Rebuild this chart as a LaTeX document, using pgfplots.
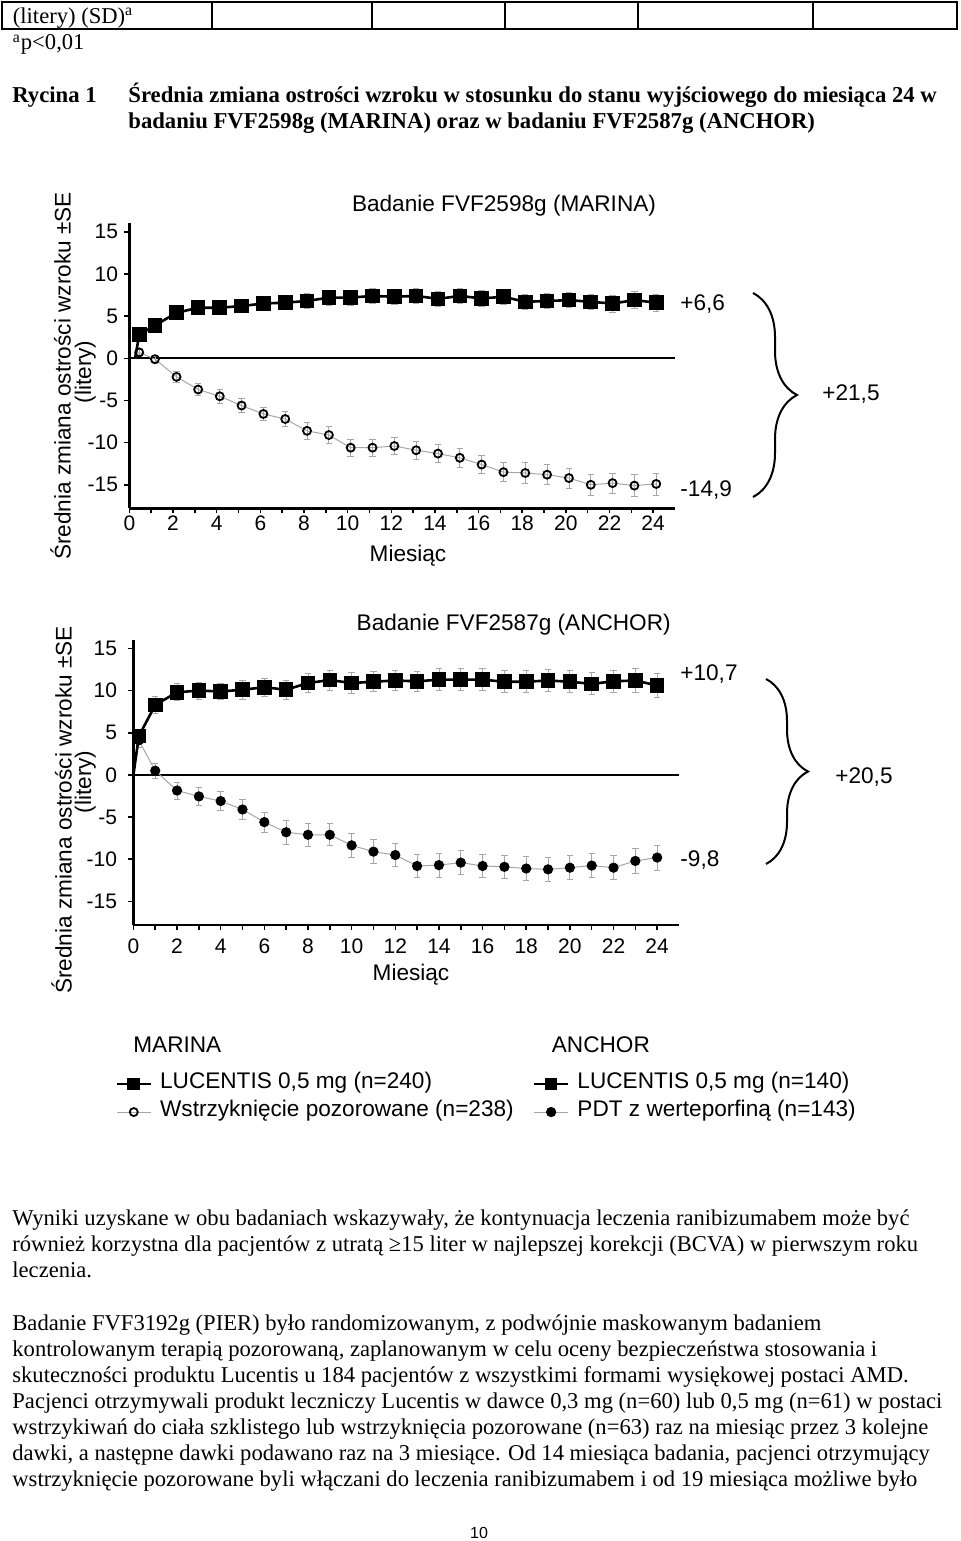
\documentclass[border=0pt]{standalone}
\usepackage{fontspec}
\setmainfont{Liberation Sans}
\newfontfamily\tnr{Liberation Serif}
\usepackage{pgfplots}
\pgfplotsset{compat=1.18}
\usetikzlibrary{decorations.pathreplacing}

\pgfplotsset{
  lucchart/.style={
    scale only axis, width=272.8pt, height=142.5pt,
    xmin=0, xmax=25, ymin=-17.8, ymax=16,
    axis x line=bottom, axis y line=left,
    axis line style={-, line width=1.2pt},
    xtick={0,2,...,24},
    xticklabels={0,2,4,6,8,10,12,14,16,18,20,22,24},
    minor xtick={1,3,...,23},
    ytick={-15,-10,-5,0,5,10,15},
    yticklabels={-15,-10,-5,0,5,10,15},
    tick align=outside, major tick length=2.5pt, minor tick length=2.5pt,
    tick style={black, line width=0.75pt},
    ticklabel style={font=\fontsize{10.5}{12}\selectfont},
    yticklabel style={inner sep=0pt, xshift=-3pt},
    xticklabel style={inner sep=0pt, anchor=north, text height=7.6pt, text depth=0pt, yshift=-0.7pt},
    clip=false,
  },
  sq/.style={black, line width=1.3pt, mark=square*, mark size=3pt, mark options={solid}},
  oc/.style={gray!70, line width=0.5pt, mark=o, mark size=2pt, mark options={black, line width=0.9pt}},
  fc/.style={gray!70, line width=0.5pt, mark=*, mark size=2.3pt, mark options={black}},
  eb/.style={error bars/.cd, y dir=both, y explicit,
    error bar style={gray!70, line width=0.4pt},
    error mark options={rotate=90, gray!70, mark size=1.6pt, line width=0.4pt}},
}
\tikzset{
  body/.style={anchor=base west, inner sep=0pt, font=\tnr\fontsize{11.3}{14}\selectfont},
  head/.style={anchor=base west, inner sep=0pt, font=\tnr\bfseries\fontsize{11.35}{14}\selectfont},
  lab/.style={inner sep=0pt, font=\fontsize{11.3}{13}\selectfont},
}

\begin{document}
\begin{tikzpicture}[x=0.5pt,y=-0.5pt]
\path[use as bounding box] (0,0) rectangle (960,1541);

% table row at the top of the page
\draw[line width=0.8pt] (2,2) rectangle (957,29);
\foreach \xx in {212,372,505,638,813} \draw[line width=0.8pt] (\xx,2) -- (\xx,29);
\node[body] at (12.5,23.3) {(litery) (SD)\textsuperscript{a}};
\node[body] at (12.5,50) {\textsuperscript{a}p<0,01};

\node[head] at (12,102.7) {Rycina 1};
\node[head] at (128,102.7) {Średnia zmiana ostrości wzroku w stosunku do stanu wyjściowego do miesiąca 24 w};
\node[head] at (128,128.5) {badaniu FVF2598g (MARINA) oraz w badaniu FVF2587g (ANCHOR)};

% ---- MARINA ----
\begin{axis}[lucchart, at={(64.7pt,-254.2pt)}, anchor=south west]
  \addplot[black, line width=1pt, forget plot] coordinates {(0,0) (25,0)};
  \addplot[gray!70, line width=0.5pt] coordinates {(0.26,0) (0.45,0.7)};
  \addplot[oc, eb] coordinates {
    (0.45,0.7) +- (0,0.5)   (1.17,-0.1) +- (0,0.5)  (2.16,-2.2) +- (0,0.7)
    (3.15,-3.7) +- (0,0.7)  (4.14,-4.5) +- (0,0.8)  (5.14,-5.6) +- (0,0.8)
    (6.14,-6.6) +- (0,0.8)  (7.14,-7.2) +- (0,0.9)  (8.14,-8.6) +- (0,1.0)
    (9.14,-9.1) +- (0,1.0)  (10.14,-10.6) +- (0,1.0) (11.14,-10.6) +- (0,1.0)
    (12.14,-10.4) +- (0,1.0) (13.14,-10.9) +- (0,1.1) (14.14,-11.3) +- (0,1.1)
    (15.14,-11.8) +- (0,1.1) (16.14,-12.6) +- (0,1.1) (17.14,-13.5) +- (0,1.1)
    (18.14,-13.6) +- (0,1.2) (19.14,-13.8) +- (0,1.2) (20.14,-14.2) +- (0,1.2)
    (21.14,-15.0) +- (0,1.2) (22.14,-14.8) +- (0,1.2) (23.14,-15.1) +- (0,1.3)
    (24.14,-14.9) +- (0,1.3)
  };
  \addplot[black, line width=1.3pt] coordinates {(0.26,0) (0.45,2.8)};
  \addplot[sq, eb] coordinates {
    (0.45,2.8) +- (0,0.6)   (1.17,3.9) +- (0,0.7)   (2.16,5.4) +- (0,0.8)
    (3.15,6.0) +- (0,0.8)   (4.14,6.0) +- (0,0.8)   (5.14,6.2) +- (0,0.8)
    (6.14,6.5) +- (0,0.8)   (7.14,6.6) +- (0,0.8)   (8.14,6.8) +- (0,0.9)
    (9.14,7.2) +- (0,0.9)   (10.14,7.2) +- (0,0.9)  (11.14,7.4) +- (0,0.9)
    (12.14,7.3) +- (0,0.9)  (13.14,7.4) +- (0,0.9)  (14.14,7.05) +- (0,0.9)
    (15.14,7.4) +- (0,0.9)  (16.14,7.1) +- (0,0.9)  (17.14,7.3) +- (0,0.9)
    (18.14,6.7) +- (0,0.9)  (19.14,6.8) +- (0,0.9)  (20.14,6.9) +- (0,0.9)
    (21.14,6.7) +- (0,0.9)  (22.14,6.5) +- (0,1.0)  (23.14,6.9) +- (0,1.0)
    (24.14,6.6) +- (0,1.0)
  };
\end{axis}
\node[lab, anchor=base] at (504,211.7) {Badanie FVF2598g (MARINA)};
\node[lab, anchor=base] at (408,561.7) {Miesiąc};
\node[lab, anchor=base, rotate=90] at (70.7,376) {Średnia zmiana ostrości wzroku ±SE};
\node[lab, anchor=base, rotate=90] at (91,372) {(litery)};
\node[lab, anchor=base west] at (680,310.5) {+6,6};
\node[lab, anchor=base west] at (680,496.5) {-14,9};
\node[lab, anchor=base west] at (822,400.5) {+21,5};
\draw[line width=1pt, decorate, decoration={brace, amplitude=22pt}] (753,293) -- (753,497);

% ---- ANCHOR ----
\begin{axis}[lucchart, at={(66.7pt,-462.5pt)}, anchor=south west,
    yticklabel style={xshift=-2.5pt}, xticklabel style={yshift=-3.35pt}]
  \addplot[black, line width=1pt, forget plot] coordinates {(0,0) (25,0)};
  \addplot[gray!70, line width=0.5pt] coordinates {(0,0) (0.25,4.1)};
  \addplot[fc, eb] coordinates {
    (0.25,4.1) +- (0,0.8)  (1,0.5) +- (0,0.9)    (2,-1.85) +- (0,1.0)
    (3,-2.55) +- (0,1.1)   (4,-3.1) +- (0,1.1)   (5,-4.1) +- (0,1.2)
    (6,-5.6) +- (0,1.2)    (7,-6.8) +- (0,1.4)   (8,-7.1) +- (0,1.4)
    (9,-7.1) +- (0,1.3)    (10,-8.35) +- (0,1.4) (11,-9.1) +- (0,1.4)
    (12,-9.5) +- (0,1.4)   (13,-10.8) +- (0,1.4) (14,-10.7) +- (0,1.4)
    (15,-10.4) +- (0,1.4)  (16,-10.8) +- (0,1.4) (17,-10.9) +- (0,1.4)
    (18,-11.1) +- (0,1.4)  (19,-11.2) +- (0,1.4) (20,-11.0) +- (0,1.4)
    (21,-10.75) +- (0,1.4) (22,-11.0) +- (0,1.4) (23,-10.2) +- (0,1.5)
    (24,-9.8) +- (0,1.5)
  };
  \addplot[black, line width=1.3pt] coordinates {(0,0) (0.25,4.6)};
  \addplot[sq, eb] coordinates {
    (0.25,4.6) +- (0,0.8)  (1,8.3) +- (0,1.0)    (2,9.8) +- (0,1.0)
    (3,10.0) +- (0,1.0)    (4,9.9) +- (0,1.0)    (5,10.1) +- (0,1.1)
    (6,10.4) +- (0,1.1)    (7,10.1) +- (0,1.1)   (8,10.9) +- (0,1.1)
    (9,11.25) +- (0,1.2)   (10,10.9) +- (0,1.2)  (11,11.05) +- (0,1.2)
    (12,11.2) +- (0,1.2)   (13,11.1) +- (0,1.2)  (14,11.3) +- (0,1.3)
    (15,11.3) +- (0,1.3)   (16,11.3) +- (0,1.3)  (17,11.05) +- (0,1.3)
    (18,11.05) +- (0,1.3)  (19,11.2) +- (0,1.3)  (20,11.05) +- (0,1.3)
    (21,10.8) +- (0,1.3)   (22,11.1) +- (0,1.3)  (23,11.2) +- (0,1.4)
    (24,10.6) +- (0,1.4)
  };
\end{axis}
\node[lab, anchor=base] at (513.7,630) {Badanie FVF2587g (ANCHOR)};
\node[lab, anchor=base] at (411,980) {Miesiąc};
\node[lab, anchor=base, rotate=90] at (71.7,810) {Średnia zmiana ostrości wzroku ±SE};
\node[lab, anchor=base, rotate=90] at (91,782) {(litery)};
\node[lab, anchor=base west] at (680,680.5) {+10,7};
\node[lab, anchor=base west] at (680,866.5) {-9,8};
\node[lab, anchor=base west] at (835,783.5) {+20,5};
\draw[line width=1pt, decorate, decoration={brace, amplitude=21pt}] (766,679) -- (766,864);

% ---- legend ----
\begin{axis}[at={(0pt,-770.5pt)}, anchor=south west, scale only axis,
    width=480pt, height=770.5pt, xmin=0, xmax=1, ymin=0, ymax=1, hide axis,
    legend columns=2,
    legend style={at={(0.1198,0.2875)}, anchor=west, draw=none, fill=none,
      inner sep=0pt, row sep=0pt,
      font=\fontsize{11.3}{13}\selectfont,
      nodes={inner sep=1pt, text height=8.5pt, text depth=3.6pt},
      /tikz/every odd column/.append style={column sep=3pt},
      /tikz/every even column/.append style={column sep=8.5pt}},
    legend cell align=left]
  \addlegendimage{black, line width=1.3pt, mark=square*, mark size=2.5pt}
  \addlegendentry{LUCENTIS 0,5 mg (n=240)}
  \addlegendimage{black, line width=1.3pt, mark=square*, mark size=2.5pt}
  \addlegendentry{LUCENTIS 0,5 mg (n=140)}
  \addlegendimage{gray!70, line width=0.5pt, mark=o, mark size=2pt, mark options={black, line width=0.9pt}}
  \addlegendentry{Wstrzyknięcie pozorowane (n=238)}
  \addlegendimage{gray!70, line width=0.5pt, mark=*, mark size=2.3pt, mark options={black}}
  \addlegendentry{PDT z werteporfiną (n=143)}
\end{axis}
\node[lab, anchor=base west] at (133,1052.3) {MARINA};
\node[lab, anchor=base west] at (551.5,1052.3) {ANCHOR};

% ---- body text ----
\node[body] at (12,1225) {Wyniki uzyskane w obu badaniach wskazywały, że kontynuacja leczenia ranibizumabem może być};
\node[body] at (12,1251.2) {również korzystna dla pacjentów z utratą ≥15 liter w najlepszej korekcji (BCVA) w pierwszym roku};
\node[body] at (12,1277.5) {leczenia.};
\node[body] at (12,1330) {Badanie FVF3192g (PIER) było randomizowanym, z podwójnie maskowanym badaniem};
\node[body] at (12,1356) {kontrolowanym terapią pozorowaną, zaplanowanym w celu oceny bezpieczeństwa stosowania i};
\node[body] at (12,1382) {skuteczności produktu Lucentis u 184 pacjentów z wszystkimi formami wysiękowej postaci AMD.};
\node[body] at (12,1408) {Pacjenci otrzymywali produkt leczniczy Lucentis w dawce 0,3 mg (n=60) lub 0,5 mg (n=61) w postaci};
\node[body] at (12,1434) {wstrzykiwań do ciała szklistego lub wstrzyknięcia pozorowane (n=63) raz na miesiąc przez 3 kolejne};
\node[body] at (12,1460) {dawki, a następne dawki podawano raz na 3 miesiące. Od 14 miesiąca badania, pacjenci otrzymujący};
\node[body] at (12,1486) {wstrzyknięcie pozorowane byli włączani do leczenia ranibizumabem i od 19 miesiąca możliwe było};
\node[inner sep=0pt, anchor=base, font=\fontsize{8}{9}\selectfont] at (479,1538) {10};
\end{tikzpicture}
\end{document}
